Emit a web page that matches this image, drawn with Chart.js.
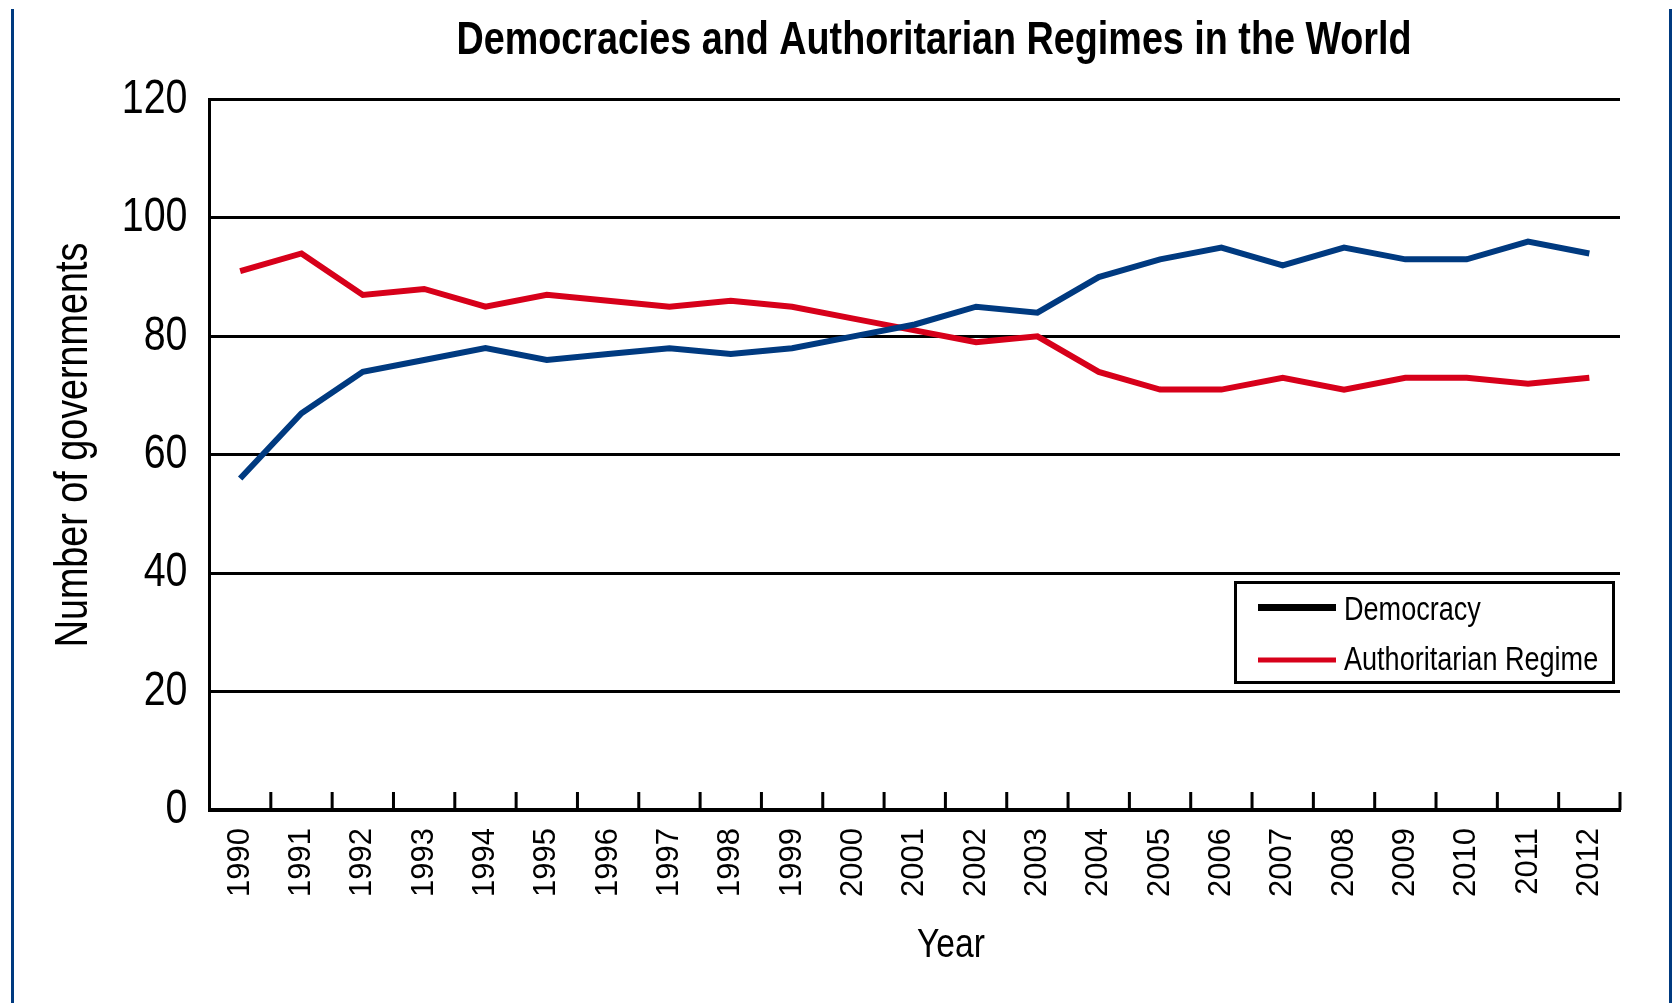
<!DOCTYPE html>
<html>
<head>
<meta charset="utf-8">
<script src="https://cdn.jsdelivr.net/npm/chart.js@4.4.1/dist/chart.umd.min.js"></script>
<style>
  html, body { margin: 0; padding: 0; background: #ffffff; }
  #wrap { position: relative; width: 1675px; height: 1003px; }
  canvas { display: block; }
</style>
</head>
<body>
<div id="wrap"><canvas id="chart" width="1675" height="1003"></canvas></div>
<script>
// ---- data ----
const chartTitle = 'Democracies and Authoritarian Regimes in the World';
const xAxisTitle = 'Year';
const yAxisTitle = 'Number of governments';
const categories = ['1990','1991','1992','1993','1994','1995','1996','1997','1998','1999','2000','2001','2002','2003','2004','2005','2006','2007','2008','2009','2010','2011','2012'];
const seriesNames = ['Democracy', 'Authoritarian Regime'];
const democracy = [56, 67, 74, 76, 78, 76, 77, 78, 77, 78, 80, 82, 85, 84, 90, 93, 95, 92, 95, 93, 93, 96, 94];
const authoritarian = [91, 94, 87, 88, 85, 87, 86, 85, 86, 85, 83, 81, 79, 80, 74, 71, 71, 73, 71, 73, 73, 72, 73];
const yTickValues = [0, 20, 40, 60, 80, 100, 120];

// ---- styles ----
const BLUE = '#003a80';
const RED = '#d7001a';
const FONT = "'Liberation Sans', Arial, sans-serif";
const SQUEEZE = 0.82; // narrow (condensed) look
const legendSwatchColors = ['#000000', RED];

function narrowText(ctx, text, x, y, font, align, angle) {
  ctx.save();
  ctx.translate(x, y);
  if (angle) ctx.rotate(angle);
  ctx.scale(SQUEEZE, 1);
  ctx.font = font;
  ctx.textAlign = align;
  ctx.textBaseline = 'alphabetic';
  ctx.fillStyle = '#000';
  ctx.fillText(text, 0, 0);
  ctx.restore();
}

const decorPlugin = {
  id: 'decor',
  beforeDraw(chart) {
    const ctx = chart.ctx;
    ctx.save();
    ctx.fillStyle = '#ffffff';
    ctx.fillRect(0, 0, chart.width, chart.height);
    ctx.fillStyle = BLUE;
    ctx.fillRect(11, 9, 3, chart.height - 9);
    ctx.fillRect(1669, 9, 3, chart.height - 9);
    ctx.restore();

    // condensed y tick labels drawn by the scale itself
    const ys = chart.scales.y;
    if (ys && !ys._narrowWrapped) {
      const orig = ys.drawLabels;
      ys.drawLabels = function (area) {
        const items = this.getLabelItems(area);
        const x0 = items.length ? items[0].options.translation[0] : 0;
        const c = this.ctx;
        c.save();
        c.translate(x0, 0);
        c.scale(SQUEEZE, 1);
        c.translate(-x0, 0);
        orig.call(this, area);
        c.restore();
      };
      ys._narrowWrapped = true;
    }
  },
  afterDraw(chart) {
    const ctx = chart.ctx;
    const area = chart.chartArea;
    const xs = chart.scales.x;
    ctx.save();
    // tick marks pointing up from the x axis at category boundaries
    const step = xs.getPixelForValue(1) - xs.getPixelForValue(0);
    ctx.strokeStyle = '#000';
    ctx.lineWidth = 3;
    ctx.beginPath();
    for (let i = 0; i < categories.length; i++) {
      const x = xs.getPixelForValue(i) + step / 2;
      ctx.moveTo(x, area.bottom);
      ctx.lineTo(x, area.bottom - 18);
    }
    ctx.stroke();
    ctx.restore();

    narrowText(ctx, chartTitle, 934, 54, 'bold 46px ' + FONT, 'center', 0);
    narrowText(ctx, xAxisTitle, 951, 957, '41px ' + FONT, 'center', 0);
    narrowText(ctx, yAxisTitle, 87, 445, '46px ' + FONT, 'center', -Math.PI / 2);

    // legend
    ctx.save();
    ctx.strokeStyle = '#000';
    ctx.lineWidth = 3;
    ctx.strokeRect(1235.5, 582.5, 378, 100);
    const swY = [607.5, 660];
    const swW = [7, 5];
    const textY = [620, 670];
    for (let i = 0; i < seriesNames.length; i++) {
      ctx.fillStyle = legendSwatchColors[i];
      ctx.fillRect(1258, swY[i] - swW[i] / 2, 78, swW[i]);
      narrowText(ctx, chart.data.datasets[i].label, 1344, textY[i], '33px ' + FONT, 'left', 0);
    }
    ctx.restore();
  }
};

new Chart(document.getElementById('chart'), {
  type: 'line',
  data: {
    labels: categories,
    datasets: [
      { label: seriesNames[0], data: democracy, borderColor: BLUE, backgroundColor: BLUE, borderWidth: 6, pointRadius: 0, tension: 0, fill: false },
      { label: seriesNames[1], data: authoritarian, borderColor: RED, backgroundColor: RED, borderWidth: 6, pointRadius: 0, tension: 0, fill: false }
    ]
  },
  options: {
    responsive: false,
    animation: false,
    layout: { padding: { left: 20, right: 55, top: 99.5, bottom: 0 } },
    plugins: {
      legend: { display: false },
      title: { display: false },
      tooltip: { enabled: false }
    },
    scales: {
      x: {
        type: 'category',
        offset: true,
        grid: { display: true, drawOnChartArea: false, drawTicks: false },
        border: { display: true, color: '#000', width: 4 },
        ticks: {
          color: '#000',
          font: { family: FONT, size: 31 },
          minRotation: 90, maxRotation: 90,
          padding: 18,
          autoSkip: false
        },
        afterFit(scale) { scale.height = 193; }
      },
      y: {
        min: 0, max: 120,
        afterBuildTicks(scale) { scale.ticks = yTickValues.map(v => ({ value: v })); },
        grid: { color: '#000', lineWidth: 3, drawTicks: false },
        border: { display: true, color: '#000', width: 3 },
        ticks: {
          color: '#000',
          font: { family: FONT, size: 48 },
          padding: 22
        },
        afterFit(scale) { scale.width = 189.5; }
      }
    }
  },
  plugins: [decorPlugin]
});
</script>
</body>
</html>
